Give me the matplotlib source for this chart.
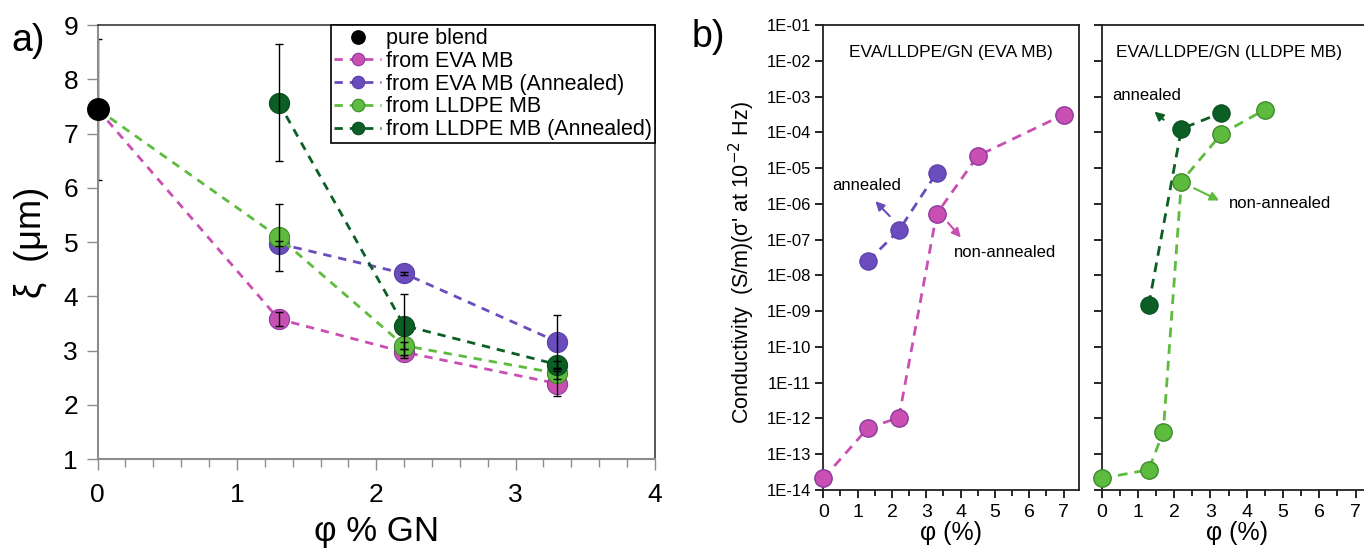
import numpy as np
import matplotlib
matplotlib.use("Agg")
import matplotlib.pyplot as plt
from matplotlib.ticker import MultipleLocator, FixedLocator, FuncFormatter, NullLocator

plt.rcParams['font.family'] = ['Liberation Sans', 'DejaVu Sans']

# ---- panel a data: correlation length vs GN content ----
phi_a = [0, 1.3, 2.2, 3.3]
phi_a_ann = [1.3, 2.2, 3.3]
pure_blend = 7.45
pure_blend_err = 1.3
xi_eva = [7.45, 3.58, 2.97, 2.39]
xi_eva_err = [0, 0.13, 0.05, 0.23]
xi_eva_ann = [4.97, 4.42, 3.16]
xi_eva_ann_err = [0.05, 0.03, 0.5]
xi_lldpe = [7.45, 5.09, 3.09, 2.58]
xi_lldpe_err = [0, 0.62, 0.06, 0.1]
xi_lldpe_ann = [7.57, 3.46, 2.74]
xi_lldpe_ann_err = [1.08, 0.59, 0.07]

# ---- panel b data: conductivity vs GN content ----
phi_eva = [0, 1.3, 2.2, 3.3, 4.5, 7]
sig_eva = [2.1e-14, 5.4e-13, 1.05e-12, 5.2e-7, 2.2e-5, 3.1e-4]
phi_eva_ann = [1.3, 2.2, 3.3]
sig_eva_ann = [2.5e-8, 1.8e-7, 7.3e-6]
phi_lldpe = [0, 1.3, 1.7, 2.2, 3.3, 4.5]
sig_lldpe = [2.1e-14, 3.7e-14, 4.2e-13, 4.2e-6, 9.0e-5, 4.3e-4]
phi_lldpe_ann = [1.3, 2.2, 3.3]
sig_lldpe_ann = [1.5e-9, 1.25e-4, 3.5e-4]

labels_a = ['pure blend', 'from EVA MB', 'from EVA MB (Annealed)',
            'from LLDPE MB', 'from LLDPE MB (Annealed)']

PINK = '#c94fb2'
PINK_EDGE = '#8c3aa0'
PURPLE = '#6a4cbc'
PURPLE_EDGE = '#5a3eaa'
LGREEN = '#5dbb3e'
LGREEN_EDGE = '#3e8a2a'
DGREEN = '#0b5f25'
DGREEN_EDGE = '#0a4d1e'

fig = plt.figure(figsize=(13.64, 5.49), dpi=100)

# ================= panel a =================
ax = fig.add_axes([0.0715, 0.1639, 0.4087, 0.7905])

ms_a = 14.5
dash_a = (3, 2.5)
ax.plot(phi_a, xi_eva, '--', color=PINK, lw=2, dashes=dash_a, marker='o', ms=ms_a,
        mfc=PINK, mec=PINK_EDGE, mew=0.8, label=labels_a[1], zorder=2)
ax.plot(phi_a_ann, xi_eva_ann, '--', color=PURPLE, lw=2, dashes=dash_a, marker='o', ms=ms_a,
        mfc=PURPLE, mec=PURPLE_EDGE, mew=0.8, label=labels_a[2], zorder=2)
ax.plot(phi_a, xi_lldpe, '--', color=LGREEN, lw=2, dashes=dash_a, marker='o', ms=ms_a,
        mfc=LGREEN, mec=LGREEN_EDGE, mew=0.8, label=labels_a[3], zorder=2)
ax.plot(phi_a_ann, xi_lldpe_ann, '--', color=DGREEN, lw=2, dashes=dash_a, marker='o', ms=ms_a,
        mfc=DGREEN, mec=DGREEN_EDGE, mew=0.8, label=labels_a[4], zorder=2)
ax.plot([0], [pure_blend], 'o', color='black', ms=ms_a + 1, label=labels_a[0], zorder=3,
        clip_on=False)

# error bars over the markers; the pure blend bar sits under the left spine
eb = dict(fmt='none', ecolor='black', elinewidth=1, capsize=3, capthick=1)
ax.errorbar([0], [pure_blend], yerr=[pure_blend_err], zorder=1, **eb)
ax.errorbar(phi_a[1:], xi_eva[1:], yerr=xi_eva_err[1:], zorder=5, **eb)
ax.errorbar(phi_a_ann, xi_eva_ann, yerr=xi_eva_ann_err, zorder=5, **eb)
ax.errorbar(phi_a[1:], xi_lldpe[1:], yerr=xi_lldpe_err[1:], zorder=5, **eb)
ax.errorbar(phi_a_ann, xi_lldpe_ann, yerr=xi_lldpe_ann_err, zorder=5, **eb)

ax.set_xlim(0, 4)
ax.set_ylim(1, 9)
ax.xaxis.set_major_locator(MultipleLocator(1))
ax.xaxis.set_minor_locator(MultipleLocator(0.2))
ax.yaxis.set_major_locator(MultipleLocator(1))
ax.tick_params(axis='both', which='major', direction='out', length=8, width=1,
               color='#8c8c8c', labelsize=19)
ax.tick_params(axis='x', which='major', pad=9)
ax.tick_params(axis='x', which='minor', direction='out', length=6, width=1, color='#8c8c8c')
ax.tick_params(axis='y', pad=6)
for side in ['left', 'bottom']:
    ax.spines[side].set_color('#8c8c8c')
    ax.spines[side].set_linewidth(1.5)
for side in ['top', 'right']:
    ax.spines[side].set_color('#3a3a3a')
    ax.spines[side].set_linewidth(1.2)

ax.set_xlabel('φ % GN', fontsize=25, labelpad=6)
ax.set_ylabel('ξ  (μm)', fontsize=26, labelpad=10)

handles, labs = ax.get_legend_handles_labels()
order = [labs.index(l) for l in labels_a]
leg = ax.legend([handles[i] for i in order], [labs[i] for i in order],
                loc='upper right', bbox_to_anchor=(1.0, 1.0), borderaxespad=0,
                fontsize=15.5, frameon=True, fancybox=False, edgecolor='black',
                framealpha=1, handlelength=2.2, handletextpad=0.2,
                labelspacing=0.08, borderpad=0.15, markerscale=0.62)
leg.get_frame().set_linewidth(1.2)

fig.text(0.008, 0.925, 'a)', fontsize=27, ha='left', va='center')

# ================= panel b =================
fmt_log = FuncFormatter(lambda v, p: '1E-%02d' % int(round(-np.log10(v))))
decades = [10.0 ** (-k) for k in range(1, 15)]
ms_b = 12.5
dash_b = (3.5, 2.5)


def style_b(a, show_ylabels):
    a.set_yscale('log')
    a.set_ylim(1e-14, 1e-1)
    a.set_xlim(0, 7.45)
    a.yaxis.set_major_locator(FixedLocator(decades))
    a.yaxis.set_minor_locator(NullLocator())
    a.yaxis.set_major_formatter(fmt_log)
    a.xaxis.set_major_locator(MultipleLocator(1))
    a.xaxis.set_minor_locator(MultipleLocator(0.5))
    a.tick_params(axis='y', which='major', direction='out', length=6, width=1.2,
                  labelsize=12, labelleft=show_ylabels, pad=3)
    a.tick_params(axis='x', which='major', direction='out', length=6, width=1.2,
                  labelsize=14, pad=4)
    a.tick_params(axis='x', which='minor', direction='out', length=4, width=1.2)
    for s in a.spines.values():
        s.set_color('#222222')
        s.set_linewidth(1.3)
    a.set_xlabel('φ (%)', fontsize=18, labelpad=0)


b1 = fig.add_axes([0.6036, 0.1075, 0.1875, 0.847])
style_b(b1, True)
b1.plot(phi_eva_ann, sig_eva_ann, '--', color=PURPLE, lw=2, dashes=dash_b, marker='o', ms=ms_b,
        mfc=PURPLE, mec=PURPLE_EDGE, mew=0.8, zorder=3)
b1.plot(phi_eva, sig_eva, '--', color=PINK, lw=2, dashes=dash_b, marker='o', ms=ms_b,
        mfc=PINK, mec=PINK_EDGE, mew=1.0, zorder=3, clip_on=False)
b1.text(0.5, 0.94, 'EVA/LLDPE/GN (EVA MB)', transform=b1.transAxes, ha='center',
        va='center', fontsize=12.5)
b1.set_ylabel("Conductivity  (S/m)(σ' at 10$^{-2}$ Hz)", fontsize=15.5)
b1.yaxis.set_label_coords(-0.26, 0.49)

b1.text(1.27, 10 ** -5.49, 'annealed', ha='center', va='center', fontsize=12)
b1.annotate('', xy=(1.46, 10 ** -5.87), xytext=(1.99, 10 ** -6.40),
            arrowprops=dict(arrowstyle='-|>', color=PURPLE, lw=1.5, mutation_scale=13))
b1.text(5.3, 10 ** -7.35, 'non-annealed', ha='center', va='center', fontsize=12)
b1.annotate('', xy=(4.06, 10 ** -7.0), xytext=(3.58, 10 ** -6.47),
            arrowprops=dict(arrowstyle='-|>', color=PINK, lw=1.5, mutation_scale=13))

b2 = fig.add_axes([0.8076, 0.1075, 0.1982, 0.847])
style_b(b2, False)
b2.plot(phi_lldpe_ann, sig_lldpe_ann, '--', color=DGREEN, lw=2, dashes=dash_b, marker='o',
        ms=ms_b, mfc=DGREEN, mec=DGREEN_EDGE, mew=0.8, zorder=3)
b2.plot(phi_lldpe, sig_lldpe, '--', color=LGREEN, lw=2, dashes=dash_b, marker='o', ms=ms_b,
        mfc=LGREEN, mec=LGREEN_EDGE, mew=1.0, zorder=3, clip_on=False)
b2.text(0.47, 0.94, 'EVA/LLDPE/GN (LLDPE MB)', transform=b2.transAxes, ha='center',
        va='center', fontsize=12.5)

b2.text(1.24, 10 ** -2.98, 'annealed', ha='center', va='center', fontsize=12)
b2.annotate('', xy=(1.40, 10 ** -3.37), xytext=(1.77, 10 ** -3.70),
            arrowprops=dict(arrowstyle='-|>', color=DGREEN, lw=1.5, mutation_scale=13))
b2.text(4.93, 10 ** -6.0, 'non-annealed', ha='center', va='center', fontsize=12)
b2.annotate('', xy=(3.31, 10 ** -5.94), xytext=(2.48, 10 ** -5.53),
            arrowprops=dict(arrowstyle='-|>', color=LGREEN, lw=1.5, mutation_scale=13))

fig.text(0.507, 0.932, 'b)', fontsize=27, ha='left', va='center')

fig.savefig('out.png', dpi=100)
